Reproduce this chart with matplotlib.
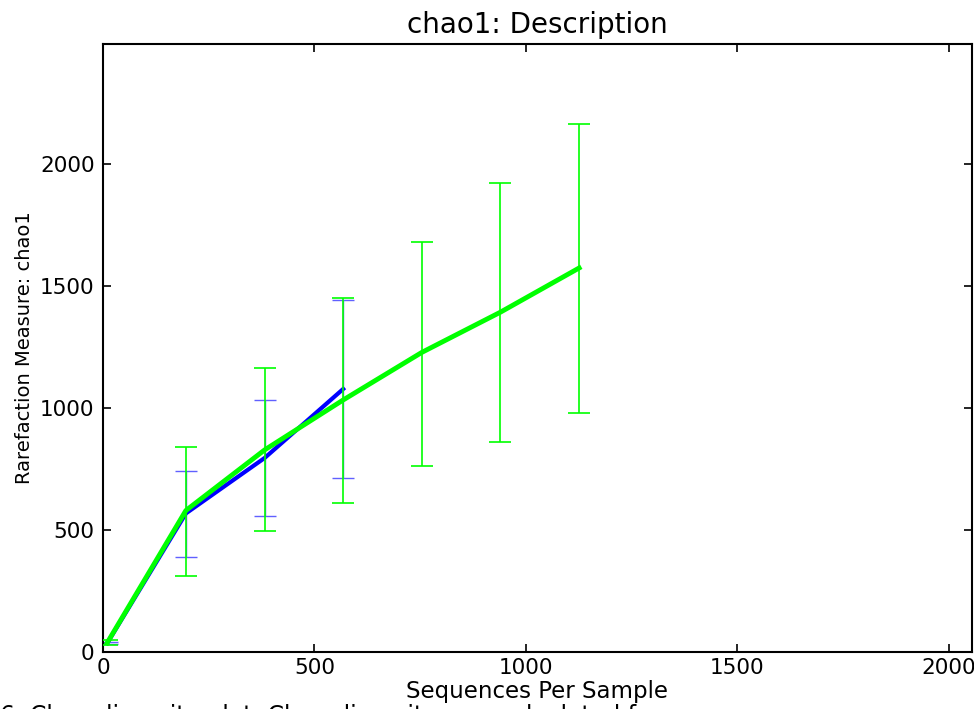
import matplotlib
matplotlib.use("Agg")
import matplotlib.pyplot as plt

seqs_green = [10, 196, 382, 568, 754, 940, 1126]
chao_green = [38, 580, 828, 1033, 1228, 1393, 1574]
err_green_lo = [30, 311, 496, 612, 764, 861, 980]
err_green_hi = [48, 840, 1165, 1451, 1682, 1922, 2166]

seqs_blue = [10, 196, 382, 568]
chao_blue = [36, 568, 795, 1078]
err_blue_lo = [32, 389, 557, 713]
err_blue_hi = [42, 742, 1033, 1444]

title = "chao1: Description"
xlabel = "Sequences Per Sample"
ylabel = "Rarefaction Measure: chao1"
caption = "6. Chao diversity plot. Chao diversity was calculated for"

fig = plt.figure(figsize=(9.74, 7.09), dpi=100)
ax = fig.add_axes([103/974, 1 - 652/709, (972-103)/974, (652-44)/709])

def yerr(vals, lo, hi):
    return [[v - l for v, l in zip(vals, lo)], [h - v for v, h in zip(vals, hi)]]

ax.errorbar(seqs_blue, chao_blue, yerr=yerr(chao_blue, err_blue_lo, err_blue_hi),
            color='#0000ff', lw=3, elinewidth=1, capsize=8, capthick=1, ecolor='#6060ff', zorder=2)
ax.errorbar(seqs_green, chao_green, yerr=yerr(chao_green, err_green_lo, err_green_hi),
            color='#00ff00', lw=3.5, elinewidth=1.2, capsize=8, capthick=1.2, ecolor='#00ff00', zorder=3)

ax.set_xlim(0, 2055)
ax.set_ylim(0, 2492)
ax.set_xticks([0, 500, 1000, 1500, 2000])
ax.set_yticks([0, 500, 1000, 1500, 2000])
ax.tick_params(direction='in', top=True, right=True, length=6, width=1.2, labelsize=15.5, pad=6)
ax.tick_params(axis='x', pad=4)
for s in ax.spines.values():
    s.set_linewidth(1.5)

ax.set_title(title, fontsize=20, pad=8)
ax.set_xlabel(xlabel, fontsize=16.5, labelpad=2)
ax.set_ylabel(ylabel, fontsize=14, labelpad=4)

fig.text(0.0, 1 - 723/709, caption, fontsize=17, ha='left', va='baseline')

fig.savefig("out.png", dpi=100)
